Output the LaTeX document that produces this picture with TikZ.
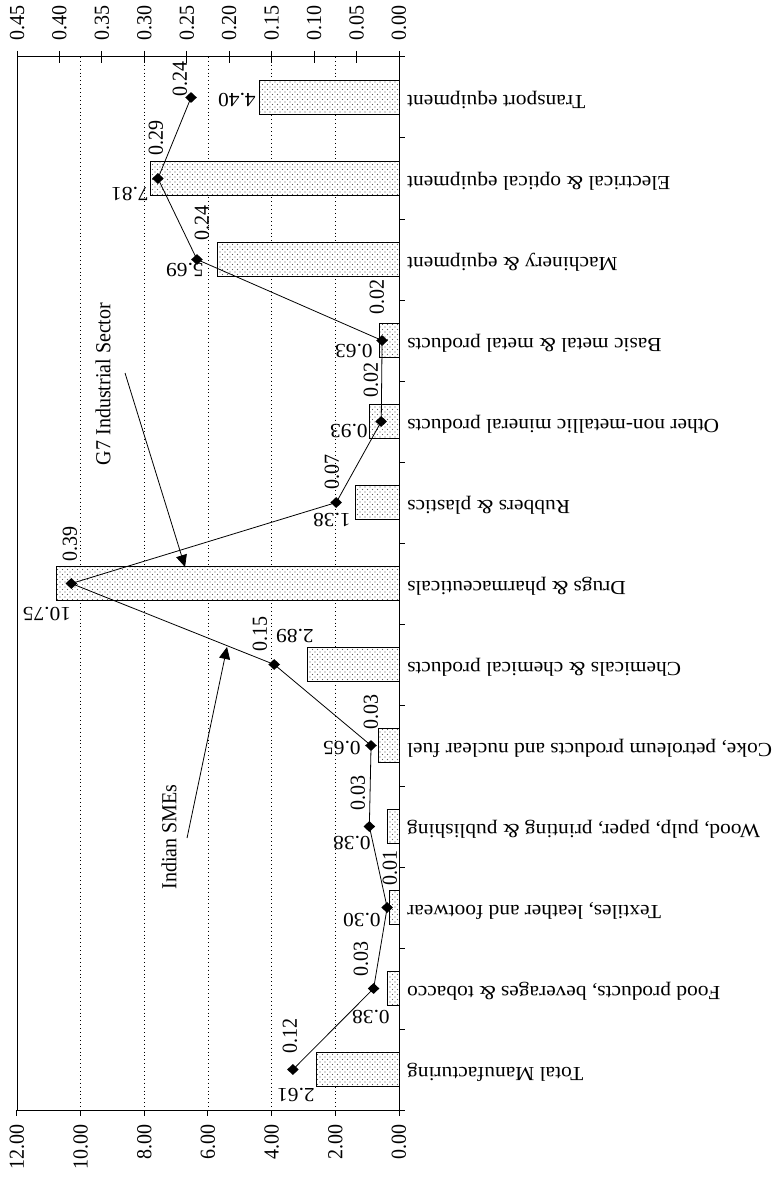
\documentclass[tikz,border=0pt]{standalone}
\usepackage{fontspec}
\setmainfont{Liberation Serif}
\usetikzlibrary{shapes.geometric,patterns,arrows.meta}
\pgfdeclarepatternformonly{sparsedots}{\pgfqpoint{-1pt}{-1pt}}{\pgfqpoint{6pt}{6pt}}{\pgfqpoint{5pt}{5pt}}{%
  \pgfpathcircle{\pgfqpoint{0pt}{0pt}}{.6pt}%
  \pgfpathcircle{\pgfqpoint{2.5pt}{2.5pt}}{.6pt}%
  \pgfusepath{fill}}

\begin{document}
\begin{tikzpicture}[x=0.9346pt,y=-1pt,xscale=1.07,
  every node/.style={transform shape,font=\fontsize{20}{24}\selectfont},
  barbox/.style={draw,line width=.8pt,preaction={fill=white},pattern=sparsedots,pattern color=black!65},
  dia/.style={diamond,fill,inner sep=0pt,minimum size=11pt},
  gridline/.style={line width=.8pt,dash pattern=on .9pt off 3pt},
  axis/.style={line width=1pt},
  arr/.style={line width=.8pt,-{Triangle[length=12pt,width=11pt]}}]
\useasboundingbox (0,0) rectangle (773,1177);
\fill[white] (0,0) rectangle (773,1177);

% gridlines
\foreach \k in {1,...,5}
  \draw[gridline] ({399-63.67*\k},57) -- ({399-63.67*\k},1110);

% bars
\foreach \i/\b in {0/2.61,1/0.38,2/0.30,3/0.38,4/0.65,5/2.89,6/10.75,7/1.38,8/0.93,9/0.63,10/5.69,11/7.81,12/4.40}
  \draw[barbox] (399,{1086.5-81*\i}) rectangle ({399-31.83*\b},{1052.5-81*\i});

% line
\foreach \i/\v in {0/0.125,1/0.030,2/0.014,3/0.035,4/0.033,5/0.147,6/0.386,7/0.074,8/0.021,9/0.020,10/0.238,11/0.284,12/0.245}
  \node[dia] (m\i) at ({399-848.9*\v},{1069.5-81*\i}) {};
\draw[line width=.8pt] (m0.center) \foreach \i in {1,...,12}{ -- (m\i.center)};

\foreach \i/\t/\x/\y in {0/0.12/290/1036,1/0.03/361/959,2/0.01/390/868,3/0.03/358/793,4/0.03/371/712,5/0.15/260/634,6/0.39/70/544,7/0.07/332/472,8/0.02/371/380,9/0.02/377/297,10/0.24/202/223,11/0.29/156/138,12/0.24/180/79}
  \node[rotate=90,inner sep=0pt] (v\i) at (\x,\y) {\t};

\foreach \i/\t/\x/\y in {0/2.61/296/1095,1/0.38/371/1017,2/0.30/362/920,3/0.38/352/843,4/0.65/342/748,5/2.89/295/636,6/10.75/47/614,7/1.38/332/520,8/0.93/349/431,9/0.63/354/351,10/5.69/185/270,11/7.81/130/194,12/4.40/237/100}
  \node[rotate=180,inner sep=0pt] (b\i) at (\x,\y) {\t};

% categories
\foreach \i/\t in {0/Total Manufacturing,
  1/{Food products, beverages \& tobacco},
  2/{Textiles, leather and footwear},
  3/{Wood, pulp, paper, printing \& publishing},
  4/{Coke, petroleum products and nuclear fuel},
  5/Chemicals \& chemical products,
  6/Drugs \& pharmaceuticals,
  7/Rubbers \& plastics,
  8/Other non-metallic mineral products,
  9/Basic metal \& metal products,
  10/Machinery \& equipment,
  11/Electrical \& optical equipment,
  12/Transport equipment}
  \node[rotate=180,anchor=mid east,inner sep=0pt] (c\i) at (407,{1069.5-81*\i}) {\t};

% axes
\draw[axis] (17,57) -- (399,57) -- (399,1110) -- (17,1110) -- cycle;
\foreach \k in {0,...,13}
  \draw[axis] (399,{1110-81*\k}) -- (405,{1110-81*\k});
\foreach \k/\t in {0/0.00,1/0.05,2/0.10,3/0.15,4/0.20,5/0.25,6/0.30,7/0.35,8/0.40,9/0.45}{
  \draw[axis] ({399-42.44*\k},51) -- ({399-42.44*\k},63);
  \node[rotate=90,anchor=west,inner sep=0pt] (r\k) at ({399-42.44*\k},41) {\t};
}
\foreach \k/\t in {0/0.00,1/2.00,2/4.00,3/6.00,4/8.00,5/10.00,6/12.00}{
  \draw[axis] ({399-63.67*\k},1110) -- ({399-63.67*\k},1116);
  \node[rotate=90,anchor=east,inner sep=0pt] (l\k) at ({399-63.67*\k},1124) {\t};
}

% callouts
\node[rotate=90] (sme) at (169,837) {Indian SMEs};
\coordinate (smetail) at (187,838);
\coordinate (smetip) at (227,647);
\draw[arr] (smetail) -- (smetip);
\node[rotate=90] (gseven) at (103,384) {G7 Industrial Sector};
\coordinate (gseventail) at (125,373);
\coordinate (gseventip) at (185,567);
\draw[arr] (gseventail) -- (gseventip);
\end{tikzpicture}
\end{document}
